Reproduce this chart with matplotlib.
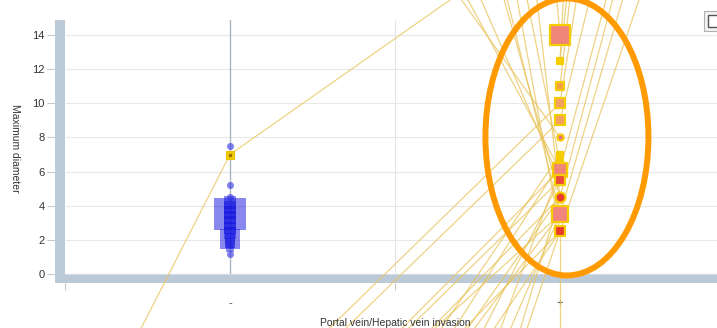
import matplotlib
matplotlib.use("Agg")
import matplotlib.pyplot as plt
from matplotlib.patches import Rectangle, Ellipse

plt.rcParams["font.family"] = ["Liberation Sans", "DejaVu Sans"]

# categories on the x axis
categories = ["-", "+"]

# "-" group: maximum diameter values and marker areas
minus_vals = [3.5, 2.05, 4.2, 3.9, 3.6, 3.3, 3.0, 2.7, 2.4, 2.1, 1.8, 1.55]
minus_area = [540, 200, 85, 85, 85, 85, 85, 85, 75, 62, 52, 33]
minus_dots = [1.2, 4.5, 5.2, 7.5]

# highlighted point in the "-" group and its polyline ends
minus_hl = 7.0
minus_hl_in = (-0.27, -3.2)
minus_hl_out = (0.67, 16.1)

# "+" group: values, marker areas, face colours, marker shape
plus_vals = [14.0, 12.5, 11.0, 10.0, 9.0, 8.0, 7.0, 6.5, 6.1, 5.5, 4.5, 3.5, 2.5]
plus_area = [200, 14, 26, 62, 62, 20, 14, 14, 88, 52, 52, 133, 52]
plus_face = ["#f2857a", "#f5d000", "#f2a040", "#f2a060", "#f2a060", "#e0708c",
             "#f5d000", "#f5d000", "#f2857a", "#ec4a3a", "#ec3a2a", "#f2857a", "#ec3a2a"]
plus_mark = ["s", "s", "s", "s", "s", "o", "s", "s", "s", "s", "o", "s", "s"]

# polylines meeting the "+" axis: coming from above-left
top_x = [0.70, 0.72, 0.76, 0.83, 0.84, 0.87, 0.90, 0.93, 0.99, 1.01]
top_v = [8.0, 6.1, 5.5, 4.5, 3.5, 2.5, 6.5, 4.5, 14.0, 12.5]
# coming from below-left
low_x = [0.30, 0.35, 0.52, 0.54, 0.61, 0.62, 0.64, 0.68, 0.71, 0.72, 0.74,
         0.77, 0.80, 0.82, 0.85, 0.88, 0.90]
low_v = [10.0, 9.0, 6.1, 5.5, 4.5, 3.5, 7.0, 6.5, 2.5, 4.5, 3.5,
         5.5, 2.5, 6.1, 3.5, 4.5, 2.5]
# leaving towards the upper right
out_x = [1.02, 1.03, 1.05, 1.09, 1.14, 1.16, 1.19, 1.24]
out_v = [12.5, 11.0, 10.0, 9.0, 6.1, 4.5, 3.5, 2.5]

Y_TOP, Y_BOT = 16.1, -3.2
W, H = 717, 328


def fx(px):
    return px / W


def fy(py):
    return 1 - py / H


fig = plt.figure(figsize=(W / 100, H / 100), dpi=100)
ax = fig.add_axes([fx(65), fy(283), (725 - 65) / W, (283 - 20) / H])
ax.set_xlim(-0.5, 1.5)
ax.set_ylim(-0.527, 14.88)
for s in ax.spines.values():
    s.set_visible(False)

# grid and axis furniture
ax.set_yticks(range(0, 15, 2))
ax.set_yticklabels([str(v) for v in range(0, 15, 2)], fontsize=8, color="#333333")
ax.tick_params(axis="y", length=13, width=0.8, color="#c8c8c8", pad=1.5)
ax.set_xticks([-0.5, 0.5, 1.5])
ax.set_xticklabels([])
ax.set_xticks([0, 1], minor=True)
ax.set_xticklabels(categories, minor=True, fontsize=8, color="#444444")
ax.tick_params(axis="x", which="major", length=5, width=0.8, color="#c8c8c8")
ax.tick_params(axis="x", which="minor", length=0, pad=11)
for v in range(0, 15, 2):
    ax.axhline(v, color="#e8e8e8", lw=0.8, zorder=0)
ax.axvline(0.5, color="#e6e6e6", lw=0.8, zorder=0)
ax.axvline(0, color="#aab6c2", lw=1.0, zorder=1)
ax.axhspan(-0.527, 0, color="#bccad8", zorder=2, lw=0)

# left bar with unit separators
fig.add_artist(Rectangle((fx(55), fy(283)), fx(10), (283 - 20) / H,
                         color="#bccad8", lw=0, zorder=3))
for v in range(1, 15):
    ax.plot([-0.53, -0.5], [v, v], color="white", lw=0.8, clip_on=False, zorder=4)
ax.plot([-0.53, 1.5], [0, 0], color="#d6dee7", lw=0.6, clip_on=False, zorder=3)

# polylines (parallel-coordinate style)
line_kw = dict(color="#e9c45a", lw=0.9, alpha=0.75, clip_on=False, zorder=5)
for x, v in zip(top_x, top_v):
    ax.plot([x, 1], [Y_TOP, v], **line_kw)
for x, v in zip(low_x, low_v):
    ax.plot([x, 1], [Y_BOT, v], **line_kw)
for x, v in zip(out_x, out_v):
    ax.plot([1, x], [v, Y_TOP], **line_kw)
ax.plot([1, 1], [min(plus_vals), Y_BOT], **line_kw)
ax.plot([minus_hl_in[0], 0, minus_hl_out[0]],
        [minus_hl_in[1], minus_hl, minus_hl_out[1]], **line_kw)

# "-" group markers
ax.scatter([0] * len(minus_vals), minus_vals, s=minus_area, marker="s",
           color="#1212e0", alpha=0.5, lw=0, zorder=6)
ax.scatter([0] * len(minus_dots), minus_dots, s=26, marker="o",
           color="#3030e6", alpha=0.6, lw=0, zorder=6)
ax.scatter([0], [minus_hl], s=30, marker="s", color="#f0d000",
           edgecolor="#e8c000", lw=0.8, zorder=7)
ax.scatter([0], [minus_hl], s=3, marker="s", color="#a07000", zorder=8)

# "+" group markers
for v, a, c, m in zip(plus_vals, plus_area, plus_face, plus_mark):
    ax.scatter([1], [v], s=a, marker=m, color=c, edgecolor="#f5cc00",
               lw=1.6, zorder=7)

# highlight ellipse around the "+" group
ax.add_patch(Ellipse((1.021, 8.03), 0.494, 16.23, fill=False,
                     edgecolor="#ff9a00", lw=4.3, clip_on=False, zorder=9))

# axis titles
fig.text(fx(395), fy(323), "Portal vein/Hepatic vein invasion", fontsize=7.5,
         color="#333333", ha="center", va="center")
fig.text(fx(15), fy(148), "Maximum diameter", fontsize=7.5, color="#333333",
         rotation=270, ha="center", va="center")

# small toggle box at the top right
fig.add_artist(Rectangle((fx(704), fy(31)), fx(14), 20 / H, facecolor="#f4f4f4",
                         edgecolor="#b0b0b0", lw=0.8))
fig.add_artist(Rectangle((fx(708), fy(27)), fx(10), 12 / H, facecolor="white",
                         edgecolor="#555555", lw=1.0))

fig.savefig("out.png", dpi=100)
